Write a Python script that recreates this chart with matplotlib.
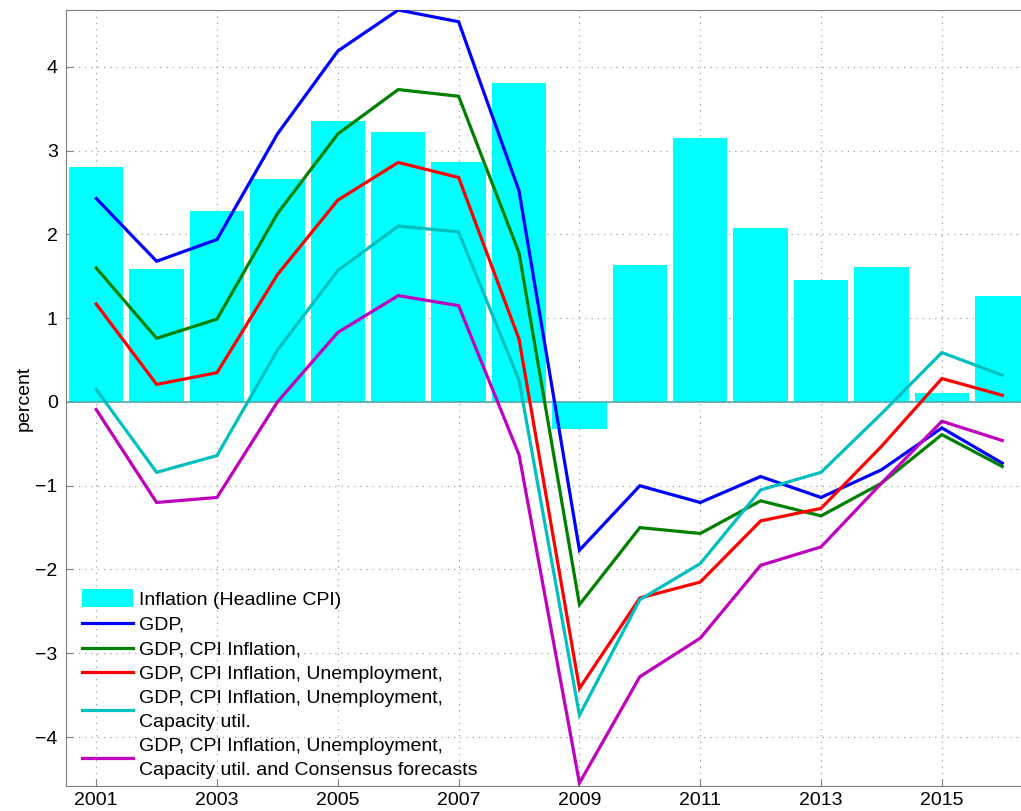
import matplotlib
matplotlib.use("Agg")
import matplotlib.pyplot as plt
from matplotlib.patches import Patch, Rectangle
from matplotlib.legend_handler import HandlerPatch

plt.rcParams['font.family'] = ['Liberation Sans', 'DejaVu Sans']

years = list(range(2001, 2017))
inflation = [2.81, 1.59, 2.28, 2.66, 3.36, 3.22, 2.87, 3.81, -0.32, 1.64, 3.15, 2.08, 1.46, 1.61, 0.11, 1.26]
gdp = [2.43, 1.68, 1.94, 3.2, 4.19, 4.68, 4.54, 2.52, -1.77, -1.0, -1.2, -0.89, -1.14, -0.81, -0.31, -0.73]
gdp_cpi = [1.60, 0.76, 0.99, 2.25, 3.2, 3.73, 3.65, 1.78, -2.42, -1.5, -1.57, -1.18, -1.36, -0.97, -0.39, -0.77]
gdp_cpi_u = [1.17, 0.21, 0.35, 1.52, 2.41, 2.86, 2.68, 0.75, -3.42, -2.34, -2.15, -1.42, -1.27, -0.53, 0.28, 0.08]
gdp_cpi_u_cap = [0.15, -0.84, -0.64, 0.62, 1.57, 2.1, 2.03, 0.26, -3.74, -2.36, -1.93, -1.05, -0.84, -0.14, 0.59, 0.32]
gdp_cpi_u_cap_cons = [-0.09, -1.2, -1.14, 0.0, 0.83, 1.27, 1.15, -0.63, -4.55, -3.28, -2.82, -1.95, -1.73, -0.97, -0.23, -0.46]

labels = ["Inflation (Headline CPI)",
          "GDP,",
          "GDP, CPI Inflation,",
          "GDP, CPI Inflation, Unemployment,",
          "GDP, CPI Inflation, Unemployment,\nCapacity util.",
          "GDP, CPI Inflation, Unemployment,\nCapacity util. and Consensus forecasts"]
xticks = [2001, 2003, 2005, 2007, 2009, 2011, 2013, 2015]
yticks = [-4, -3, -2, -1, 0, 1, 2, 3, 4]

fig = plt.figure(figsize=(10.21, 8.11), dpi=100)
ax = fig.add_axes([66/1021, 25/811, 1 - 66/1021, (786-10)/811])

ax.bar(years, inflation, width=0.9, color='#00ffff', zorder=2)
ax.axhline(0, color='#55aaaa', lw=1.2, zorder=2.5)
series = [gdp, gdp_cpi, gdp_cpi_u, gdp_cpi_u_cap, gdp_cpi_u_cap_cons]
colors = ['#0000ff', '#008000', '#ff0000', '#00bfbf', '#bf00bf']
handles = [Patch(facecolor='#00ffff', edgecolor='none')]
for s, c in zip(series, colors):
    ln, = ax.plot(years, s, color=c, lw=2.3, zorder=3, solid_joinstyle='miter')
    handles.append(ln)

ax.set_xlim(2000.5, 2016.31)
ax.set_ylim(-4.585, 4.68)
ax.set_xticks(xticks)
ax.set_yticks(yticks)
ax.set_yticklabels(['\u2212%d' % abs(v) if v < 0 else str(v) for v in yticks])
ax.grid(True, linestyle=(0, (1, 4)), color='#a0a0a0', lw=0.9, zorder=0)
ax.set_axisbelow(True)
ax.tick_params(direction='in', length=5, color='#808080', labelsize=14, pad=6)
ax.tick_params(axis='x', pad=4)
for sp in ['left', 'bottom', 'top']:
    ax.spines[sp].set_color('#808080')
ax.spines['right'].set_visible(False)
ax.set_ylabel('percent', fontsize=14, labelpad=2)


def tall_patch(legend, orig_handle, xdescent, ydescent, width, height, fontsize):
    h = height * 1.35
    return Rectangle((-xdescent, -ydescent - (h - height) / 2), width, h)


leg = ax.legend(handles, labels, loc='upper left', bbox_to_anchor=(0.017, 0.251), frameon=False,
                fontsize=14, handlelength=2.6, handletextpad=0.3, labelspacing=0.37,
                borderaxespad=0, borderpad=0,
                handler_map={Patch: HandlerPatch(patch_func=tall_patch)})
for t in leg.get_texts():
    t.set_linespacing(1.5)

fig.savefig('out.png', dpi=100)
